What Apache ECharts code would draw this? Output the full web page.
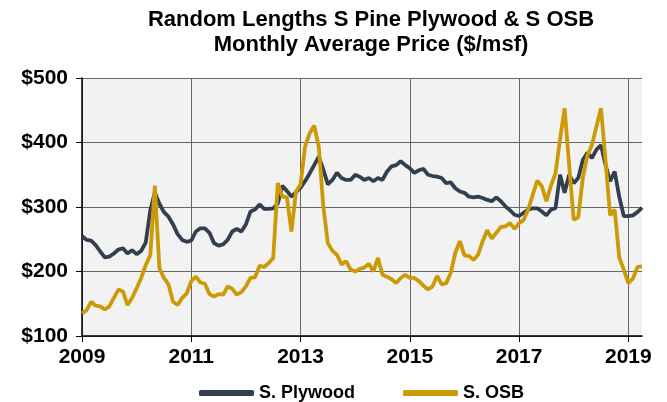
<!DOCTYPE html>
<html>
<head>
<meta charset="utf-8">
<script src="https://cdn.jsdelivr.net/npm/echarts@6/dist/echarts.min.js"></script>
<style>
  html, body { margin: 0; padding: 0; background: #fff; }
  #chart { width: 667px; height: 402px; }
</style>
</head>
<body>
<div id="chart"></div>
<script>
// monthly averages, Jan 2009 .. Apr 2019
var startYear = 2009;
var plywood = [
    255, 249, 248, 241, 231, 222, 223, 228, 234, 236, 228, 233,   // 2009
    227, 232, 245, 295, 322, 305, 292, 285, 273, 258, 249, 246,   // 2010
    248, 262, 267, 267, 260, 244, 240, 242, 249, 262, 266, 262,   // 2011
    273, 293, 296, 304, 297, 297, 298, 305, 333, 325, 316, 323,   // 2012
    330, 340, 352, 365, 378, 358, 335, 342, 353, 345, 342, 342,   // 2013
    350, 347, 342, 345, 340, 345, 342, 355, 363, 365, 371, 365,   // 2014
    360, 353, 357, 359, 350, 348, 347, 345, 337, 338, 329, 324,   // 2015
    322, 316, 315, 316, 314, 311, 309, 315, 309, 301, 295, 288,   // 2016
    286, 291, 296, 298, 298, 293, 287, 296, 298, 350, 322, 350,   // 2017
    337, 345, 373, 384, 376, 389, 396, 365, 340, 355, 316, 286,   // 2018
    286, 287, 292, 299                                            // 2019
];
var osb = [
    135, 140, 153, 147, 146, 141, 146, 159, 172, 169, 148, 159,   // 2009
    174, 190, 210, 225, 333, 205, 190, 180, 153, 148, 159, 166,   // 2010
    185, 192, 183, 181, 165, 161, 165, 164, 177, 173, 164, 168,   // 2011
    177, 190, 191, 209, 207, 213, 221, 337, 316, 315, 262, 324,   // 2012
    335, 394, 414, 426, 394, 301, 244, 232, 226, 211, 216, 203,   // 2013
    200, 204, 206, 212, 200, 221, 195, 192, 188, 182, 190, 195,   // 2014
    190, 190, 185, 178, 172, 177, 193, 180, 182, 198, 229, 247,   // 2015
    225, 224, 218, 226, 247, 264, 251, 260, 269, 270, 275, 266,   // 2016
    275, 280, 296, 319, 341, 332, 309, 333, 352, 405, 453, 365,   // 2017
    280, 284, 345, 380, 396, 425, 453, 371, 287, 296, 222, 203,   // 2018
    182, 189, 207, 208                                            // 2019
];
var seriesNames = ['S. Plywood', 'S. OSB'];
var yTicks = { min: 100, max: 500, step: 100 };

var months = [];
for (var i = 0; i < plywood.length; ++i) {
    months.push((startYear + Math.floor(i / 12)) + '-' + (i % 12 + 1));
}
// one label / gridline every two years
var everyTwoYears = function (idx) { return idx % 24 === 0; };

var chart = echarts.init(document.getElementById('chart'));
var boldText = { fontFamily: 'Arial, "Liberation Sans", sans-serif', fontWeight: 'bold', color: '#000' };

var option = {
    animation: false,
    title: {
        text: 'Random Lengths S Pine Plywood & S OSB\nMonthly Average Price ($/msf)',
        left: 366, top: 2, textAlign: 'center',
        textStyle: Object.assign({ fontSize: 22, lineHeight: 25 }, boldText)
    },
    grid: {
        left: 82, right: 25, top: 78, bottom: 66,
        show: true, backgroundColor: '#f2f2f2', borderWidth: 0
    },
    legend: {
        top: 379, left: 194,
        icon: 'roundRect', itemWidth: 55, itemHeight: 6, itemGap: 48,
        textStyle: Object.assign({ fontSize: 18 }, boldText),
        data: seriesNames
    },
    xAxis: {
        type: 'category',
        data: months,
        boundaryGap: false,
        axisLine: { lineStyle: { color: '#000', width: 1.5 } },
        axisTick: { interval: everyTwoYears, length: 6, lineStyle: { color: '#000' } },
        axisLabel: {
            interval: everyTwoYears, margin: 11, fontSize: 21,
            fontFamily: boldText.fontFamily, fontWeight: 'bold', color: '#000',
            formatter: function (v) { return v.split('-')[0]; }
        },
        splitLine: { show: true, interval: everyTwoYears, lineStyle: { color: '#666', width: 1 } }
    },
    yAxis: {
        type: 'value',
        min: yTicks.min, max: yTicks.max, interval: yTicks.step,
        axisLine: { show: true, lineStyle: { color: '#000', width: 1.5 } },
        axisTick: { show: true, length: 6, lineStyle: { color: '#000' } },
        axisLabel: {
            margin: 14, fontSize: 21,
            fontFamily: boldText.fontFamily, fontWeight: 'bold', color: '#000',
            formatter: '${value}'
        },
        splitLine: { lineStyle: { color: '#666', width: 1 } }
    },
    series: [
        {
            name: seriesNames[0], type: 'line', data: plywood,
            symbol: 'none', color: '#333f50',
            lineStyle: { width: 3.8, color: '#333f50' }
        },
        {
            name: seriesNames[1], type: 'line', data: osb,
            symbol: 'none', color: '#cc9a06',
            lineStyle: { width: 3.8, color: '#cc9a06' }
        }
    ]
};
chart.setOption(option);
</script>
</body>
</html>
